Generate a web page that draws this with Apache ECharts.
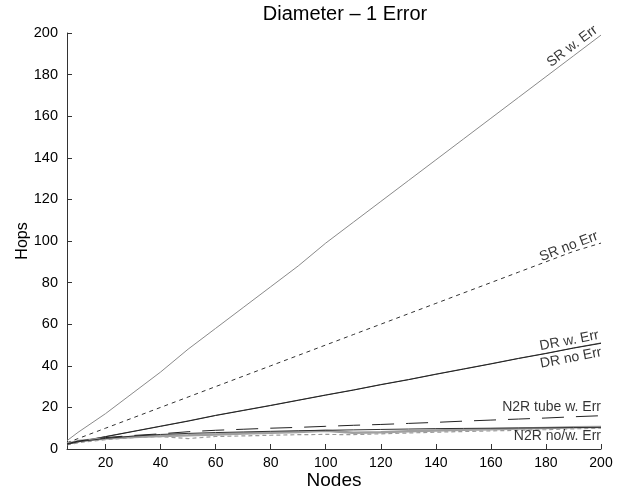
<!DOCTYPE html>
<html>
<head>
<meta charset="utf-8">
<script src="https://cdn.jsdelivr.net/npm/echarts@6/dist/echarts.min.js"></script>
<style>
html,body{margin:0;padding:0;background:#fff;}
#c{width:627px;height:491px;}
</style>
</head>
<body>
<div id="c"></div>
<script>
var nodes = [6, 10, 20, 30, 40, 50, 60, 70, 80, 90, 100, 110, 120, 130, 140, 150, 160, 170, 180, 190, 200];
var srWErr = [4, 8, 17, 27, 37, 48, 58, 68, 78, 88, 99, 109, 119, 129, 139, 149, 159, 169, 179, 189, 199];
var srNoErr = [3, 5, 10, 15, 20, 25, 30, 35, 40, 45, 50, 55, 60, 65, 70, 75, 80, 85, 90, 95, 99];
var drWErr = [2.5, 3.5, 6, 8.5, 11, 13.5, 16.2, 18.6, 21, 23.5, 26, 28.4, 31, 33.4, 36, 38.5, 41, 43.6, 46, 48.6, 51];
var drNoErr = [2.4, 3.4, 5.9, 8.4, 10.9, 13.4, 16.1, 18.5, 20.9, 23.4, 25.9, 28.3, 30.9, 33.3, 35.9, 38.4, 40.9, 43.5, 45.9, 48.5, 50.8];
var n2rTube = [2.5, 3.8, 5.5, 6.5, 7.3, 8.3, 9.0, 9.5, 10.0, 10.4, 10.9, 11.4, 11.8, 12.3, 12.8, 13.4, 13.9, 14.4, 14.9, 15.5, 16.0];
var n2rNoErr = [2.2, 3.5, 5.1, 6.2, 7.0, 7.5, 7.9, 8.2, 8.5, 8.8, 9.0, 9.2, 9.4, 9.6, 9.8, 9.9, 10.0, 10.1, 10.2, 10.3, 10.4];
var n2rWErr = [2.5, 3.8, 5.0, 5.8, 6.3, 6.6, 7.0, 7.4, 7.8, 8.2, 8.8, 7.8, 8.1, 8.5, 8.9, 9.2, 9.5, 9.8, 10.1, 10.4, 10.6];
var n2rWErrB = [2.0, 3.0, 4.5, 5.5, 6.0, 5.0, 6.0, 6.3, 6.6, 6.9, 7.0, 6.9, 7.3, 7.7, 8.1, 8.4, 8.7, 9.0, 9.3, 9.7, 10.0];
var xTicks = [20, 40, 60, 80, 100, 120, 140, 160, 180, 200];
var labelTexts = ['SR w. Err', 'SR no Err', 'DR w. Err', 'DR no Err', 'N2R tube w. Err', 'N2R no/w. Err'];

var FONT = 'Liberation Sans, Arial, sans-serif';
function pts(ys) { return nodes.map(function (x, i) { return [x, ys[i]]; }); }
function line(name, ys, color, width, type, z) {
  return {
    name: name, type: 'line', data: pts(ys), showSymbol: false, symbol: 'none',
    lineStyle: { color: color, width: width, type: type }, z: z || 2, animation: false, silent: true
  };
}
var last = nodes.length - 1;
var lx = nodes[last];
function lab(text, y, rot, pos, va) {
  return {
    value: [lx, y],
    label: { show: true, formatter: text, rotate: rot, position: pos, align: 'right', verticalAlign: va,
      color: '#000', fontSize: 14, fontFamily: FONT }
  };
}

var chart = echarts.init(document.getElementById('c'), null, { renderer: 'canvas' });
chart.setOption({
  animation: false,
  backgroundColor: '#fff',
  title: {
    text: 'Diameter \u2013 1 Error', left: 340, top: -1, textAlign: 'center',
    textStyle: { fontSize: 20, fontWeight: 'normal', color: '#000', fontFamily: FONT }
  },
  grid: { left: 67, right: 26, top: 33, bottom: 42, containLabel: false, outerBoundsMode: 'none' },
  xAxis: {
    type: 'value', min: 6, max: 200,
    name: 'Nodes', nameLocation: 'middle', nameGap: 22, nameMoveOverlap: false,
    nameTextStyle: { fontSize: 19, color: '#000', fontFamily: FONT },
    axisLine: { lineStyle: { color: '#333', width: 1 } },
    axisTick: { inside: true, length: 5, lineStyle: { color: '#333' }, customValues: xTicks },
    axisLabel: { customValues: xTicks, fontSize: 14, color: '#000', margin: 7, fontFamily: FONT },
    splitLine: { show: false }
  },
  yAxis: {
    type: 'value', min: 0, max: 200, interval: 20,
    name: 'Hops', nameLocation: 'middle', nameGap: 36, nameRotate: 90, nameMoveOverlap: false,
    nameTextStyle: { fontSize: 16, color: '#000', fontFamily: FONT },
    axisLine: { show: true, lineStyle: { color: '#333', width: 1 } },
    axisTick: { show: true, inside: true, length: 5, lineStyle: { color: '#333' } },
    axisLabel: { fontSize: 14.5, color: '#000', margin: 9, fontFamily: FONT },
    splitLine: { show: false }
  },
  series: [
    line('SR w. Err', srWErr, '#8a8a8a', 1, 'solid'),
    line('SR no Err', srNoErr, '#333', 1, [4, 4]),
    line('DR w. Err', drWErr, '#666', 1, 'solid'),
    line('DR no Err', drNoErr, '#222', 1, 'solid'),
    line('N2R w. Err b', n2rWErrB, '#999', 1.2, [4, 3]),
    line('N2R w. Err', n2rWErr, '#a0a0a0', 2.5, 'solid'),
    line('N2R no Err', n2rNoErr, '#333', 1, 'solid', 3),
    line('N2R tube w. Err', n2rTube, '#222', 1, [22, 12], 3),
    {
      type: 'scatter', symbolSize: 0, clip: false, silent: true, animation: false, z: 10,
      itemStyle: { color: 'rgba(0,0,0,0)' },
      data: [
        lab(labelTexts[0], srWErr[last], 37, [-1, -1], 'bottom'),
        lab(labelTexts[1], srNoErr[last], 21, [-1, -1], 'bottom'),
        lab(labelTexts[2], drWErr[last], 11, [-1, -1], 'bottom'),
        lab(labelTexts[3], drNoErr[last], 11, [-1, 2], 'top'),
        lab(labelTexts[4], n2rTube[last], 0, [0, -2], 'bottom'),
        lab(labelTexts[5], n2rNoErr[last], 0, [0, 2], 'top')
      ]
    }
  ]
});
</script>
</body>
</html>
